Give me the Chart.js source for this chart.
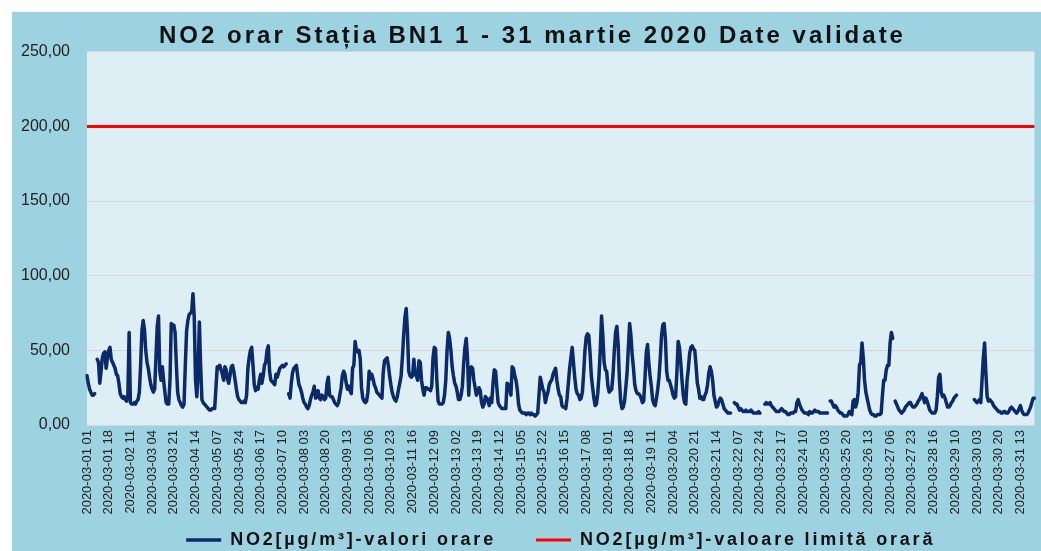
<!DOCTYPE html>
<html>
<head>
<meta charset="utf-8">
<title>NO2 orar BN1 martie 2020</title>
<script src="https://cdn.jsdelivr.net/npm/chart.js@4.4.1/dist/chart.umd.min.js"></script>
<style>
  html, body { margin: 0; padding: 0; background: #ffffff; }
  #wrap { position: absolute; left: 12px; top: 12px; width: 1029px; height: 539px; background: #9dd3e1; }
  canvas { display: block; }
</style>
</head>
<body>
<div id="wrap"><canvas id="no2Chart" width="1029" height="539"></canvas></div>
<script>
// ---- data -------------------------------------------------------------
const chartTitle = 'NO2 orar Stația BN1 1 - 31 martie 2020 Date validate';
const seriesName = 'NO2[µg/m³]-valori orare';
const limitName = 'NO2[µg/m³]-valoare limită orară';
const limitValue = 200;

// days of the month and hour labels 01..24 (hour 04 of 29 March missing, summer time)
const days = Array.from({length: 31}, (_, i) => String(i + 1).padStart(2, '0'));
const hourNames = Array.from({length: 24}, (_, i) => String(i + 1).padStart(2, '0'));
const skippedHour = '2020-03-29 04';

const hours = [];
days.forEach(d => hourNames.forEach(h => {
  const label = '2020-03-' + d + ' ' + h;
  if (label !== skippedHour) hours.push(label);
}));

// the labels shown on the x axis
const tickLabels = [
  '2020-03-01 01', '2020-03-01 18', '2020-03-02 11', '2020-03-03 04', '2020-03-03 21',
  '2020-03-04 14', '2020-03-05 07', '2020-03-05 24', '2020-03-06 17', '2020-03-07 10',
  '2020-03-08 03', '2020-03-08 20', '2020-03-09 13', '2020-03-10 06', '2020-03-10 23',
  '2020-03-11 16', '2020-03-12 09', '2020-03-13 02', '2020-03-13 19', '2020-03-14 12',
  '2020-03-15 05', '2020-03-15 22', '2020-03-16 15', '2020-03-17 08', '2020-03-18 01',
  '2020-03-18 18', '2020-03-19 11', '2020-03-20 04', '2020-03-20 21', '2020-03-21 14',
  '2020-03-22 07', '2020-03-22 24', '2020-03-23 17', '2020-03-24 10', '2020-03-25 03',
  '2020-03-25 20', '2020-03-26 13', '2020-03-27 06', '2020-03-27 23', '2020-03-28 16',
  '2020-03-29 10', '2020-03-30 03', '2020-03-30 20', '2020-03-31 13'
];

const yTicks = [0, 50, 100, 150, 200, 250];

// hourly NO2 values, one line per day (null = no valid value)
const no2 = [
  33, 28, 24, 22, 20, 20, 21, null, 44, 42, 28, 36, 45, 48, 49, 38, 45, 50, 52, 44, 42, 40, 38, 34, // 01
  33, 28, 21, 19, 18, 19, 17, 16, 20, 62, 15, 14, 14, 15, 14, 16, 17, 22, 40, 63, 70, 64, 50, 42,   // 02
  38, 32, 27, 24, 22, 24, 45, 66, 73, 36, 30, 39, 30, 22, 15, 14, 14, 30, 68, 66, 67, 62, 40, 22,   // 03
  17, 15, 13, 12, 14, 40, 63, 70, 74, 75, 76, 88, 72, 30, 19, 35, 69, 40, 17, 15, 14, 13, 12, 11,   // 04
  10, 10, 11, 11, 11, 25, 39, 38, 40, 37, 34, 30, 39, 37, 31, 28, 33, 39, 40, 36, 30, 24, 19, 17,   // 05
  16, 15, 15, 16, 15, 20, 38, 45, 50, 52, 40, 27, 23, 25, 24, 30, 34, 28, 33, 40, 42, 50, 53, 36,   // 06
  30, 29, 28, 27, 34, 32, 35, 38, 39, 40, 39, 40, 41, null, 21, 18, 28, 35, 38, 39, 40, 33, 27, 25, // 07
  22, 18, 15, 14, 12, 11, 13, 17, 20, 22, 26, 18, 19, 23, 18, 17, 20, 19, 17, 18, 28, 32, 20, 19,   // 08
  19, 17, 15, 14, 13, 15, 20, 25, 33, 36, 34, 28, 24, 26, 23, 21, 38, 40, 56, 50, 49, 50, 44, 25,   // 09
  18, 16, 15, 16, 22, 36, 31, 34, 31, 27, 25, 22, 21, 20, 19, 18, 35, 43, 44, 45, 40, 33, 27, 22,   // 10
  19, 17, 16, 19, 24, 28, 33, 45, 60, 72, 78, 62, 36, 33, 32, 33, 44, 34, 33, 30, 43, 42, 30, 24,   // 11
  20, 25, 25, 24, 24, 23, 26, 45, 52, 51, 30, 16, 14, 14, 14, 15, 20, 30, 50, 62, 58, 50, 39, 33,   // 12
  28, 26, 22, 17, 17, 20, 26, 41, 52, 58, 45, 20, 38, 39, 38, 30, 25, 20, 22, 25, 23, 15, 12, 14,   // 13
  19, 18, 16, 13, 18, 15, 28, 37, 36, 25, 15, 13, 12, 11, 11, 11, 11, 28, 27, 24, 20, 39, 38, 33,   // 14
  30, 24, 14, 10, 9, 8, 8, 8, 7, 8, 8, 7, 8, 7, 7, 6, 7, 8, 20, 32, 28, 24, 22, 15,                 // 15
  19, 22, 27, 29, 30, 34, 36, 38, 30, 24, 20, 19, 13, 12, 12, 11, 18, 28, 38, 45, 52, 42, 32, 24,   // 16
  21, 20, 17, 18, 22, 35, 50, 59, 61, 60, 48, 33, 25, 18, 13, 14, 21, 33, 50, 73, 60, 42, 37, 36,   // 17
  26, 22, 23, 24, 34, 50, 62, 66, 54, 30, 16, 11, 12, 16, 25, 35, 52, 68, 60, 47, 38, 27, 23, 21,   // 18
  21, 20, 18, 15, 16, 31, 48, 54, 42, 33, 26, 17, 14, 13, 18, 24, 32, 45, 60, 67, 68, 58, 36, 30,   // 19
  30, 27, 24, 20, 18, 19, 35, 56, 52, 42, 30, 20, 15, 14, 30, 38, 48, 52, 53, 51, 50, 40, 28, 24,   // 20
  18, 19, 17, 17, 20, 22, 27, 35, 39, 36, 30, 20, 16, 12, 13, 16, 18, 17, 14, 11, 10, 9, 8, 8,      // 21
  8, null, null, 15, 14, 14, 12, 10, 11, 10, 9, 9, 10, 9, 9, 9, 10, 9, 8, 8, 8, 8, 9, 8,           // 22
  null, null, null, 14, 15, 14, 14, 15, 13, 12, 11, 10, 9, 9, 9, 10, 11, 10, 9, 9, 8, 7, 7, 8,      // 23
  8, 8, 9, 9, 15, 17, 14, 12, 10, 9, 8, 8, 8, 7, 9, 8, 8, 9, 10, 9, 9, 9, 8, 8,                     // 24
  8, 8, 8, 8, 8, null, 16, 16, 14, 12, 13, 12, 10, 9, 8, 8, 7, 6, 6, 6, 7, 9, 8, 7,                 // 25
  16, 17, 12, 15, 22, 40, 42, 55, 45, 30, 22, 18, 14, 10, 8, 7, 7, 6, 6, 7, 7, 7, 8, 20,            // 26
  30, 30, 37, 40, 40, 55, 62, 58, null, 16, 14, 12, 10, 9, 8, 9, 10, 12, 13, 14, 15, 15, 13, 12,    // 27
  12, 13, 14, 16, 17, 19, 21, 18, 15, 18, 16, 13, 10, 9, 8, 8, 8, 10, 19, 32, 34, 22, 19, 20,       // 28
  18, 15, 12, 12, 13, 15, 16, 18, 19, 20, null, null, null, null, null, null, null, null, null, null, null, null, null, // 29 (23 h)
  17, 16, 15, 16, 17, 15, 30, 45, 55, 35, 19, 16, 17, 16, 15, 13, 12, 11, 10, 9, 9, 8, 8, 9,        // 30
  9, 8, 8, 9, 11, 12, 11, 10, 9, 8, 9, 11, 13, 10, 8, 7, 7, 7, 8, 10, 12, 15, 18, 18                // 31
];

// ---- chart ------------------------------------------------------------
const ctx = document.getElementById('no2Chart').getContext('2d');
const fontFamily = "'Liberation Sans', Arial, sans-serif";

// light fill behind the plot area
const plotBackground = {
  id: 'plotBackground',
  beforeDraw(chart) {
    const a = chart.chartArea;
    const c = chart.ctx;
    c.save();
    c.fillStyle = '#ddeef5';
    c.fillRect(a.left, a.top, a.right - a.left, a.bottom - a.top);
    c.restore();
  }
};

// title and legend text use wide letter spacing; the legend sits in a
// short box (so the rotated x labels keep their room) but draws its row
// as if the box were drawHeight tall
const spacedText = {
  id: 'spacedText',
  afterInit(chart) {
    const wrap = (box, spacing, shiftX, boxHeight, drawHeight) => {
      const fit = box.fit;
      const draw = box.draw;
      box.fit = function () {
        this.ctx.letterSpacing = spacing;
        fit.call(this);
        this.ctx.letterSpacing = '0px';
        if (boxHeight) this.height = boxHeight;
      };
      box.draw = function () {
        const top = this.top;
        if (drawHeight) this.top = this.bottom - drawHeight;
        this.ctx.save();
        this.ctx.translate(shiftX, 0);
        this.ctx.letterSpacing = spacing;
        draw.apply(this, arguments);
        this.ctx.restore();
        this.ctx.letterSpacing = '0px';
        this.top = top;
      };
    };
    wrap(chart.titleBlock, '3px', 8);
    wrap(chart.legend, '2.8px', 0, 35, 60);
  }
};

const no2Chart = new Chart(ctx, {
  type: 'line',
  data: {
    labels: hours,
    datasets: [{
      label: seriesName,
      data: no2,
      borderColor: '#0b2a69',
      backgroundColor: '#0b2a69',
      borderWidth: 3.5,
      pointRadius: 0,
      pointStyle: 'line',
      borderJoinStyle: 'round',
      borderCapStyle: 'round',
      spanGaps: false,
      tension: 0
    }, {
      label: limitName,
      data: hours.map(() => limitValue),
      borderColor: '#ff0000',
      backgroundColor: '#ff0000',
      borderWidth: 3,
      pointRadius: 0,
      pointStyle: 'line',
      tension: 0
    }]
  },
  options: {
    responsive: false,
    animation: false,
    devicePixelRatio: 1,
    layout: { padding: { left: 0, right: 4, top: 0, bottom: 0 } },
    plugins: {
      title: {
        display: true,
        text: chartTitle,
        color: '#111111',
        font: { family: fontFamily, size: 24, weight: 'bold' },
        padding: { top: 10, bottom: 1 }
      },
      legend: {
        position: 'bottom',
        fullSize: false,
        labels: {
          usePointStyle: true,
          pointStyleWidth: 35,
          padding: 40,
          color: '#111111',
          font: { family: fontFamily, size: 18, weight: 'bold' }
        }
      },
      tooltip: { enabled: false }
    },
    scales: {
      x: {
        grid: { display: false, drawTicks: false },
        border: { display: false },
        afterFit(scale) { scale.height = 91; },
        ticks: {
          autoSkip: false,
          minRotation: 90,
          maxRotation: 90,
          padding: 5,
          color: '#222222',
          font: { family: fontFamily, size: 13 },
          callback: (value, index) => tickLabels.includes(hours[index]) ? hours[index] : null
        }
      },
      y: {
        min: yTicks[0],
        max: yTicks[yTicks.length - 1],
        afterFit(scale) { scale.width = 75; },
        afterBuildTicks(scale) { scale.ticks = yTicks.map(v => ({ value: v })); },
        grid: { color: '#d8d4da', lineWidth: 1, drawTicks: false },
        border: { display: false },
        ticks: {
          padding: 17,
          color: '#222222',
          font: { family: fontFamily, size: 16 },
          callback: v => v.toFixed(2).replace('.', ',')
        }
      }
    }
  },
  plugins: [plotBackground, spacedText]
});
</script>
</body>
</html>
